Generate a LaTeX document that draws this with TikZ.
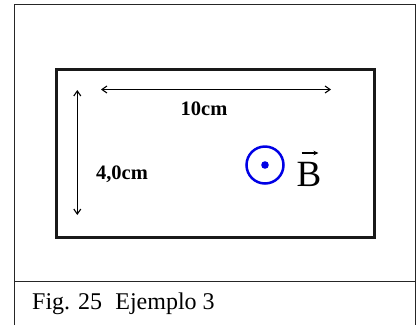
\documentclass[tikz,border=0pt]{standalone}
\usepackage{fontspec}
\setmainfont{Liberation Serif}
\usetikzlibrary{arrows.meta}
\begin{document}
\begin{tikzpicture}[x=1pt,y=-1pt,
  frame/.style={line width=1pt,draw=black!85},
  plate/.style={line width=3pt,draw=black!90},
  dim/.style={line width=1.1pt,{Straight Barb[length=5pt,width=7pt]}-{Straight Barb[length=5pt,width=7pt]}},
  lbl/.style={font=\fontsize{20.5}{24}\selectfont\bfseries,inner sep=0pt},
  field/.style={draw=blue!90!black,line width=2.5pt},
]
\useasboundingbox (0,0) rectangle (417,325);
% outer frame
\draw[frame] (14,325) -- (14,4.5) -- (415,4.5) -- (415,325);
\draw[frame] (14,281) -- (415,281);
% plate
\draw[plate] (56.5,69) rectangle (374.5,237.5);
% dimension arrows
\coordinate (hl) at (101,89.5);
\coordinate (hr) at (331,89.5);
\coordinate (vt) at (77.3,90);
\coordinate (vb) at (77.3,215);
\draw[dim] (hl) -- (hr);
\draw[dim] (vt) -- (vb);
\node[lbl] (w) at (204,109) {10cm};
\node[lbl] (h) at (122,174) {4,0cm};
% field symbol
\node[field,circle,minimum size=37pt,inner sep=0pt] (c) at (265,165) {};
\fill[blue!90!black] (c.center) circle (3.8);
\node[inner sep=0pt,font=\fontsize{37}{40}\selectfont,anchor=base] (B) at (309,186) {B};
\coordinate (al) at (301.5,153);
\coordinate (ar) at (318.5,153);
\draw[line width=1.1pt,-{Stealth[length=5pt,width=4.5pt]}] (al) -- (ar);
% caption
\node[anchor=base west,inner sep=0pt,font=\fontsize{24}{28}\selectfont] (cap) at (32,309) {Fig. 25\hspace{0.55em}Ejemplo 3};
\end{tikzpicture}
\end{document}
